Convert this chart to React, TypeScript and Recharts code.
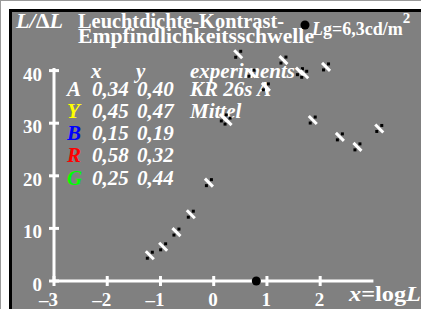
import React from 'react'
import { ScatterChart, Scatter, XAxis, YAxis, ReferenceLine } from 'recharts'

// measured points: log luminance vs. contrast sensitivity L/ΔL
const logL = [-1.2, -0.95, -0.7, -0.43, -0.09, 0.19, 0.26, 0.46, 0.71, 0.98, 1.31, 1.62, 1.7, 1.86, 2.11, 2.37, 2.7, 3.11]
const ratio = [4.9, 6.5, 9.3, 12.7, 18.7, 31.0, 30.4, 43.1, 39.5, 36.9, 42.0, 39.8, 39.3, 30.6, 40.7, 27.4, 25.5, 29.0]

// adaptation luminance marker (log 6,3 cd/m2)
const adaptLogL = [0.8]

const xTicks = [-3, -2, -1, 0, 1, 2]
const yTicks = [0, 10, 20, 30, 40]

const legendLetters = ['A', 'Y', 'B', 'R', 'G']
const legendColors = ['#ffffff', '#ffff00', '#0000ff', '#ff0000', '#00ff00']
const legendX = ['0,34', '0,45', '0,15', '0,58', '0,25']
const legendY = ['0,40', '0,47', '0,19', '0,32', '0,44']
const legendNotes = ['KR 26s A', 'Mittel', '', '', '']

const points = logL.map((x, i) => ({ x, y: ratio[i] }))
const adaptPoints = adaptLogL.map((x) => ({ x, y: 0 }))

const FONT = '"Liberation Serif", "Times New Roman", serif'
const GRAY = '#808080'

function Marker(props: any) {
  const { cx, cy } = props
  return (
    <g>
      <line x1={cx - 4} y1={cy - 4} x2={cx + 4} y2={cy + 4} stroke="#fff" strokeWidth={3} />
      <rect x={cx + 1} y={cy - 4.5} width={3} height={3} fill="#000" />
      <rect x={cx - 4} y={cy + 1.5} width={3} height={3} fill="#000" />
    </g>
  )
}

function AdaptDot(props: any) {
  const { cx, cy } = props
  return <circle cx={cx} cy={cy} r={4.5} fill="#000" />
}

function XTick(props: any) {
  const { x, y, payload } = props
  const v = payload.value
  const label = v < 0 ? '\u2013' + Math.abs(v) : String(v)
  return (
    <g>
      <line x1={x} x2={x} y1={y - 5} y2={y + 5} stroke="#fff" strokeWidth={3} />
      <text x={x + 4} y={y + 25} textAnchor="end" fill="#fff" fontFamily={FONT} fontWeight="bold" fontSize={19}>
        {label}
      </text>
    </g>
  )
}

function YTick(props: any) {
  const { x, y, payload } = props
  return (
    <g>
      <line x1={x - 5} x2={x + 5} y1={y} y2={y} stroke="#fff" strokeWidth={3} />
      <text x={x - 12} y={y + 10} textAnchor="end" fill="#fff" fontFamily={FONT} fontWeight="bold" fontSize={19}>
        {payload.value}
      </text>
    </g>
  )
}

function Labels() {
  const t = { fill: '#fff', fontFamily: FONT, fontWeight: 'bold' as const }
  const rowBase = [95, 117, 139, 161, 184]
  return (
    <svg width={421} height={309} style={{ position: 'absolute', left: 0, top: 0 }}>
      <text x={15} y={27} {...t} fontSize={21} fontStyle="italic" textLength={47} lengthAdjust="spacingAndGlyphs">
        L/<tspan fontStyle="normal">Δ</tspan>L
      </text>
      <text x={77} y={27} {...t} fontSize={21} textLength={206} lengthAdjust="spacingAndGlyphs">
        Leuchtdichte-Kontrast-
      </text>
      <text x={77} y={42} {...t} fontSize={21} textLength={236} lengthAdjust="spacingAndGlyphs">
        Empfindlichkeitsschwelle
      </text>
      <circle cx={304} cy={24} r={4.5} fill="#000" />
      <text x={311} y={34} {...t} fontSize={18}>
        <tspan fontStyle="italic">L</tspan>g=6,3cd/m<tspan fontSize={15} dy={-12}>2</tspan>
      </text>

      <g {...t} fontSize={21} fontStyle="italic">
        <text x={90} y={77}>x</text>
        <text x={135} y={77}>y</text>
        <text x={189} y={77}>experiments</text>
        {legendLetters.map((l, i) => (
          <g key={l}>
            <text x={66} y={rowBase[i]} fill={legendColors[i]}>{l}</text>
            <text x={91} y={rowBase[i]}>{legendX[i]}</text>
            <text x={136} y={rowBase[i]}>{legendY[i]}</text>
            {legendNotes[i] && <text x={189} y={rowBase[i]}>{legendNotes[i]}</text>}
          </g>
        ))}
      </g>

      <text x={348} y={300} {...t} fontSize={20} textLength={72} lengthAdjust="spacingAndGlyphs">
        <tspan fontStyle="italic">x</tspan>=log<tspan fontStyle="italic">L</tspan>
      </text>
    </svg>
  )
}

export default function App() {
  return (
    <div
      style={{
        position: 'fixed',
        left: 0,
        top: 0,
        width: 421,
        height: 309,
        background: '#fff',
        borderTop: '1px solid #999',
        borderLeft: '1px solid #999',
        boxSizing: 'border-box',
        overflow: 'hidden',
      }}
    >
      <div
        style={{
          position: 'absolute',
          left: 8,
          top: 8,
          right: 0,
          bottom: 0,
          background: GRAY,
          borderTop: '3px solid #000',
          borderLeft: '3px solid #000',
        }}
      />
      <Labels />
      <div style={{ position: 'absolute', left: 0, top: 0 }}>
        <ScatterChart width={421} height={309} margin={{ top: 17, right: 6, bottom: 0, left: 0 }}>
          <XAxis
            type="number"
            dataKey="x"
            domain={[-3, 3.8]}
            ticks={xTicks}
            axisLine={false}
            tickLine={false}
            tickSize={0}
            tickMargin={0}
            height={29}
            tick={<XTick />}
            interval={0}
          />
          <YAxis
            type="number"
            dataKey="y"
            domain={[0, 50]}
            ticks={yTicks}
            axisLine={false}
            tickLine={false}
            tickSize={0}
            tickMargin={0}
            width={53}
            tick={<YTick />}
            interval={0}
          />
          <ReferenceLine segment={[{ x: -3, y: 0 }, { x: 3, y: 0 }]} stroke="#fff" strokeWidth={3} />
          <ReferenceLine segment={[{ x: -3, y: 0 }, { x: -3, y: 40.5 }]} stroke="#fff" strokeWidth={3} />
          <Scatter data={points} shape={<Marker />} isAnimationActive={false} />
          <Scatter data={adaptPoints} shape={<AdaptDot />} isAnimationActive={false} />
        </ScatterChart>
      </div>
    </div>
  )
}
